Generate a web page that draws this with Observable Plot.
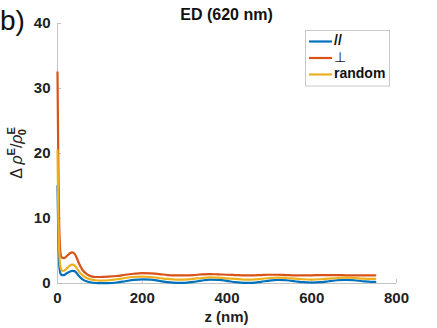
<!DOCTYPE html>
<html>
<head>
<meta charset="utf-8">
<script src="https://cdn.jsdelivr.net/npm/d3@7"></script>
<script src="https://cdn.jsdelivr.net/npm/@observablehq/plot@0.6"></script>
<style>
  html, body { margin: 0; padding: 0; background: #fff; }
  svg { display: block; }
</style>
</head>
<body>
<div id="chart"></div>
<script>
// ---- data ----
const z = [0, 2, 4, 6, 8, 10, 15, 20, 25, 30, 35, 40, 45, 50, 60, 70, 80, 90, 100, 120, 140, 160, 180, 200, 220, 240, 260, 280, 300, 320, 340, 360, 380, 400, 420, 440, 460, 480, 500, 520, 540, 560, 580, 600, 620, 640, 660, 680, 700, 720, 740, 750];
const parallel = [15, 7, 3, 1.8, 1.4, 1.3, 1.3, 1.5, 1.7, 1.85, 1.95, 1.9, 1.6, 1.2, 0.6, 0.3, 0.15, 0.08, 0.05, 0.05, 0.15, 0.35, 0.55, 0.65, 0.6, 0.4, 0.2, 0.1, 0.1, 0.25, 0.45, 0.6, 0.55, 0.4, 0.2, 0.1, 0.1, 0.25, 0.45, 0.55, 0.5, 0.35, 0.2, 0.15, 0.2, 0.35, 0.5, 0.55, 0.5, 0.35, 0.25, 0.25];
const perpendicular = [32.5, 18, 9, 5.5, 4.3, 4.0, 3.9, 4.1, 4.4, 4.7, 4.8, 4.6, 4.0, 3.2, 2.0, 1.4, 1.1, 1.0, 1.0, 1.05, 1.15, 1.35, 1.5, 1.6, 1.55, 1.45, 1.3, 1.25, 1.25, 1.3, 1.4, 1.45, 1.4, 1.35, 1.3, 1.25, 1.25, 1.3, 1.35, 1.35, 1.3, 1.25, 1.25, 1.25, 1.3, 1.3, 1.3, 1.25, 1.25, 1.25, 1.25, 1.25];
const randomOr = [20.5, 10, 5, 3, 2.3, 2.0, 1.95, 2.2, 2.5, 2.8, 2.9, 2.8, 2.4, 1.9, 1.2, 0.8, 0.6, 0.5, 0.45, 0.5, 0.65, 0.85, 1.0, 1.05, 1.0, 0.85, 0.7, 0.6, 0.6, 0.7, 0.85, 0.95, 0.9, 0.8, 0.7, 0.6, 0.6, 0.7, 0.85, 0.9, 0.85, 0.75, 0.65, 0.6, 0.65, 0.75, 0.85, 0.9, 0.85, 0.75, 0.7, 0.7];

const seriesNames = ["//", "⊥", "random"];
const seriesColors = ["#0072BD", "#D95319", "#EDB120"];
const seriesValues = [parallel, perpendicular, randomOr];

const xTicks = [0, 200, 400, 600, 800];
const yTicks = [0, 10, 20, 30, 40];

const title = "ED (620 nm)";
const xLabel = "z (nm)";
const panelLabel = "b)";

// long table built from the arrays
const rows = [];
seriesNames.forEach((name, i) => {
  z.forEach((zz, j) => rows.push({ z: zz, v: seriesValues[i][j], series: name }));
});

const W = 437, H = 328;
const mL = 57, mR = 41, mT = 23, mB = 45;
const font = "'Liberation Sans', Arial, Helvetica, sans-serif";
const axisGray = "#c4c4c4";

const chart = Plot.plot({
  width: W,
  height: H,
  marginLeft: mL,
  marginRight: mR,
  marginTop: mT,
  marginBottom: mB,
  style: { fontFamily: font, background: "#fff", overflow: "visible" },
  x: { domain: [0, 800] },
  y: { domain: [0, 40] },
  color: { domain: seriesNames, range: seriesColors },
  marks: [
    Plot.ruleY([0], { stroke: axisGray, strokeWidth: 1 }),
    Plot.ruleX([0], { stroke: axisGray, strokeWidth: 1 }),
    Plot.axisX({ ticks: xTicks, tickSize: -4, tickPadding: 13, label: null, stroke: axisGray,
                 fill: "#222", fontSize: 15, fontWeight: "bold", tickFormat: d => String(d) }),
    Plot.axisY({ ticks: yTicks, tickSize: -4, tickPadding: 11, label: null, stroke: axisGray,
                 fill: "#222", fontSize: 15, fontWeight: "bold", tickFormat: d => String(d) }),
    Plot.line(rows, { x: "z", y: "v", z: "series", stroke: "series", strokeWidth: 2.2, curve: "monotone-x" })
  ]
});

document.getElementById("chart").appendChild(chart);

// ---- annotations: title, labels, legend ----
const svg = d3.select(chart);
const cx = mL + (W - mL - mR) / 2;

svg.append("text")
  .attr("x", cx).attr("y", 20)
  .attr("text-anchor", "middle")
  .attr("font-family", font).attr("font-size", 16).attr("font-weight", "bold")
  .attr("fill", "#111")
  .text(title);

svg.append("text")
  .attr("x", cx).attr("y", 322)
  .attr("text-anchor", "middle")
  .attr("font-family", font).attr("font-size", 15).attr("font-weight", "bold")
  .attr("fill", "#222")
  .text(xLabel);

svg.append("text")
  .attr("x", 0).attr("y", 30)
  .attr("text-anchor", "start")
  .attr("font-family", font).attr("font-size", 28)
  .attr("fill", "#111")
  .text(panelLabel);

// y label: Δ ρ^E / ρ_0^E
const yl = svg.append("text")
  .attr("transform", `translate(22, ${mT + (H - mT - mB) / 2}) rotate(-90)`)
  .attr("text-anchor", "middle")
  .attr("font-family", font).attr("font-size", 16)
  .attr("fill", "#222");
yl.append("tspan").text("Δ ");
yl.append("tspan").attr("font-style", "italic").text("ρ");
yl.append("tspan").attr("dy", -7).attr("font-size", 11).attr("font-weight", "bold").text("E");
yl.append("tspan").attr("dy", 7).text("/");
yl.append("tspan").attr("font-style", "italic").text("ρ");
yl.append("tspan").attr("dy", -7).attr("font-size", 11).attr("font-weight", "bold").text("E");
yl.append("tspan").attr("dx", -8).attr("dy", 11).attr("font-size", 11).attr("font-weight", "bold").text("0");

// legend
const lg = svg.append("g");
lg.append("rect")
  .attr("x", 305.5).attr("y", 30.5).attr("width", 84).attr("height", 55.5)
  .attr("fill", "#fff").attr("stroke", "#c8c8c8").attr("stroke-width", 1);
seriesNames.forEach((name, i) => {
  const y = 41.5 + i * 16.5;
  lg.append("line")
    .attr("x1", 309).attr("x2", 332).attr("y1", y).attr("y2", y)
    .attr("stroke", seriesColors[i]).attr("stroke-width", 2.2);
  lg.append("text")
    .attr("x", 334).attr("y", y)
    .attr("text-anchor", "start")
    .attr("dominant-baseline", "middle")
    .attr("font-family", font).attr("font-size", 14)
    .attr("font-weight", name === "⊥" ? "normal" : "bold")
    .attr("fill", "#111")
    .text(name);
});
</script>
</body>
</html>
